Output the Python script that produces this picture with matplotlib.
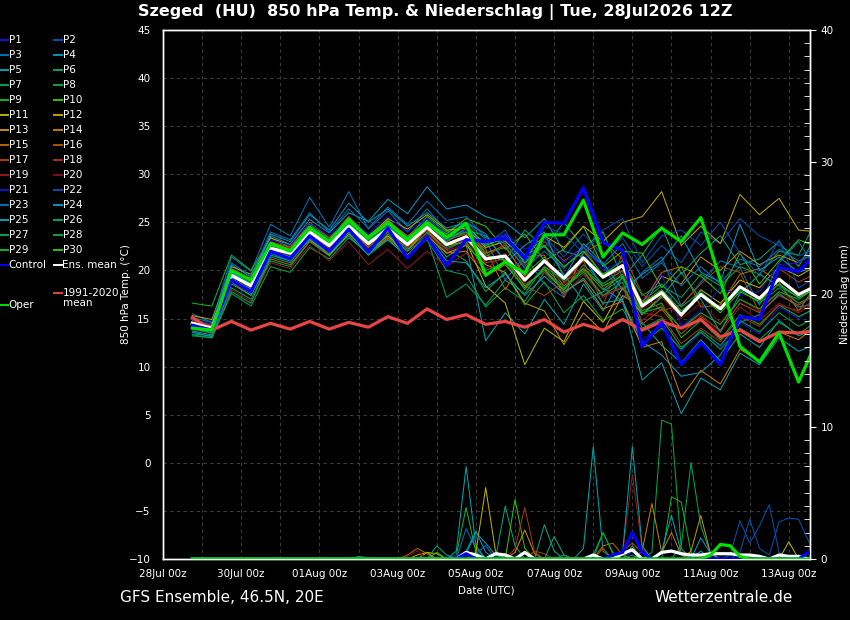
import numpy as np
import matplotlib
matplotlib.use("Agg")
import matplotlib.pyplot as plt
from matplotlib.lines import Line2D

# forecast hours counted from 28Jul 00z
hours = list(range(18, 403, 12))
precip_hours = list(range(18, 403, 6))
tick_hours = [0, 48, 96, 144, 192, 240, 288, 336, 384]
tick_labels = ["28Jul 00z", "30Jul 00z", "01Aug 00z", "03Aug 00z", "05Aug 00z",
               "07Aug 00z", "09Aug 00z", "11Aug 00z", "13Aug 00z"]

ens_mean = [14.5, 14.0, 19.5, 18.4, 22.3, 21.8, 24.0, 22.6, 24.6, 22.8, 24.3, 22.7, 24.5, 22.7, 23.5, 21.2, 21.5,
            19.0, 21.0, 19.2, 21.3, 19.3, 20.5, 16.3, 17.7, 15.4, 17.5, 16.0, 18.3, 17.1, 19.1, 17.5, 18.5]
climate = [15.1, 13.8, 14.7, 13.8, 14.5, 13.9, 14.7, 13.9, 14.6, 14.1, 15.2, 14.5, 16.0, 14.9, 15.4, 14.4, 14.7,
           14.1, 14.9, 13.6, 14.4, 13.8, 14.9, 13.8, 14.7, 14.0, 14.9, 13.1, 13.8, 12.6, 13.6, 13.5, 13.8]
control = [14.3, 13.8, 19.0, 17.8, 22.0, 21.2, 23.6, 22.0, 24.3, 21.9, 24.4, 21.3, 23.5, 20.5, 23.2, 23.0, 23.4,
           21.3, 25.0, 24.9, 28.6, 22.9, 22.1, 12.1, 14.6, 10.2, 12.5, 10.2, 15.2, 14.9, 20.3, 19.9, 22.0]
oper = [14.0, 13.8, 20.0, 19.0, 22.8, 22.0, 24.4, 23.0, 25.3, 23.4, 25.0, 23.2, 24.9, 23.4, 24.9, 19.5, 20.9,
        19.7, 23.7, 23.7, 27.3, 21.4, 23.9, 22.7, 24.4, 23.0, 25.5, 19.0, 12.1, 10.5, 13.5, 8.4, 13.0]

members = [
    [15.0, 14.2, 20.3, 18.9, 22.8, 22.0, 24.6, 23.0, 25.0, 23.2, 24.8, 22.9, 24.2, 22.0, 23.4, 22.5, 23.8, 21.0, 22.5, 20.4, 22.0, 18.0, 16.5, 12.8, 14.2, 11.6, 13.5, 12.0, 14.6, 13.4, 16.2, 15.0, 16.4],
    [14.7, 13.8, 19.6, 18.6, 22.5, 21.7, 24.2, 22.9, 24.8, 23.4, 25.0, 23.5, 25.4, 23.8, 24.6, 22.3, 23.2, 20.6, 23.5, 21.4, 23.8, 21.6, 23.4, 20.4, 22.6, 20.8, 24.0, 22.8, 25.4, 23.6, 22.6, 21.5, 22.4],
    [15.5, 14.6, 21.4, 19.9, 24.8, 23.6, 27.6, 24.5, 28.2, 24.3, 26.2, 24.0, 26.4, 24.1, 25.0, 23.2, 19.0, 21.5, 18.6, 17.2, 22.0, 20.6, 17.0, 19.8, 21.4, 16.3, 18.8, 21.0, 20.3, 16.4, 20.8, 23.0, 19.8],
    [14.2, 13.6, 20.6, 19.3, 23.6, 22.7, 25.3, 23.9, 26.0, 25.1, 27.4, 25.9, 28.7, 26.4, 26.8, 25.6, 25.0, 23.4, 25.4, 22.0, 21.4, 18.2, 16.8, 12.6, 11.2, 9.0, 9.4, 11.2, 14.6, 15.4, 17.6, 16.2, 16.6],
    [13.7, 13.3, 19.1, 18.1, 22.0, 21.4, 23.6, 22.1, 24.3, 22.4, 24.0, 22.2, 23.9, 21.4, 22.8, 12.7, 15.6, 13.4, 17.0, 14.4, 18.6, 15.8, 19.4, 14.6, 12.2, 10.4, 12.8, 10.6, 13.4, 12.0, 14.8, 13.2, 14.0],
    [14.0, 13.7, 19.0, 17.6, 21.8, 21.0, 23.5, 22.4, 24.4, 22.6, 24.6, 23.2, 25.2, 23.4, 24.2, 23.6, 21.0, 24.2, 22.4, 25.0, 22.4, 24.0, 19.2, 21.6, 24.6, 19.6, 21.8, 23.6, 20.6, 21.2, 23.0, 20.4, 24.0],
    [13.4, 13.2, 18.2, 17.0, 21.0, 20.4, 23.0, 21.5, 23.8, 22.0, 23.6, 21.6, 23.2, 20.0, 19.5, 16.2, 18.2, 16.8, 19.8, 18.0, 20.6, 18.6, 20.0, 16.8, 18.4, 17.2, 19.6, 18.4, 20.4, 19.6, 22.0, 21.6, 25.6],
    [13.2, 13.0, 17.6, 16.3, 20.4, 19.8, 22.4, 21.2, 23.4, 21.8, 23.2, 21.4, 24.0, 22.2, 21.0, 17.8, 19.8, 16.4, 18.8, 15.6, 17.4, 14.8, 16.0, 12.4, 14.0, 11.8, 13.8, 12.2, 14.8, 13.6, 15.6, 14.2, 15.2],
    [16.6, 16.3, 21.6, 20.0, 23.4, 22.4, 24.8, 23.3, 25.5, 23.6, 25.3, 23.4, 25.6, 24.0, 24.6, 21.8, 22.4, 19.6, 21.4, 18.8, 20.2, 18.0, 19.6, 15.8, 16.6, 13.0, 14.8, 12.8, 15.4, 14.4, 16.4, 15.2, 16.2],
    [14.4, 14.0, 19.8, 18.7, 22.6, 22.1, 24.5, 23.1, 25.2, 23.4, 24.9, 23.3, 25.0, 23.8, 25.4, 24.6, 22.2, 23.8, 21.0, 22.2, 24.6, 20.4, 22.0, 21.8, 18.2, 20.4, 19.4, 17.6, 21.8, 18.6, 21.0, 23.2, 22.4],
    [14.6, 14.2, 19.4, 18.2, 22.2, 21.6, 23.8, 22.2, 24.0, 22.0, 23.6, 22.0, 24.4, 22.6, 23.0, 18.4, 16.6, 10.2, 14.0, 12.6, 16.8, 14.6, 18.2, 15.4, 17.4, 15.2, 18.0, 16.6, 19.0, 18.2, 20.4, 19.4, 20.6],
    [15.3, 14.9, 20.4, 19.6, 23.4, 22.6, 24.6, 23.0, 24.8, 23.5, 25.4, 24.3, 25.8, 24.2, 24.4, 22.4, 23.0, 21.4, 23.6, 22.4, 24.6, 23.0, 25.0, 25.6, 28.2, 22.6, 24.6, 22.8, 27.9, 25.8, 27.5, 24.2, 24.0],
    [14.9, 14.4, 20.0, 18.9, 22.0, 21.2, 23.2, 21.6, 23.8, 21.8, 23.4, 21.6, 23.6, 21.8, 22.6, 20.6, 19.8, 16.6, 15.8, 12.3, 15.6, 13.6, 17.4, 16.2, 19.4, 18.6, 21.4, 20.0, 22.0, 20.6, 21.6, 20.8, 22.2],
    [14.3, 13.8, 19.2, 17.9, 22.4, 22.0, 24.4, 22.6, 25.4, 23.0, 24.6, 22.4, 24.2, 21.8, 22.0, 19.4, 20.6, 18.2, 20.2, 17.8, 19.0, 16.0, 16.8, 12.0, 12.6, 6.8, 9.6, 8.2, 11.8, 10.6, 13.6, 12.8, 14.4],
    [14.0, 13.6, 18.8, 17.4, 21.2, 20.6, 23.0, 21.8, 24.2, 22.4, 24.4, 23.0, 24.8, 23.2, 23.8, 22.2, 18.0, 21.4, 21.6, 17.2, 21.8, 23.0, 21.2, 16.6, 19.8, 20.4, 16.2, 16.4, 19.6, 20.2, 18.8, 15.8, 18.8],
    [14.6, 14.1, 19.6, 18.4, 23.0, 22.4, 25.0, 23.4, 25.6, 23.6, 25.2, 23.6, 25.0, 23.0, 24.0, 21.8, 22.6, 19.4, 21.0, 18.4, 20.0, 17.4, 18.2, 14.4, 16.0, 13.4, 15.2, 13.8, 16.6, 15.6, 17.4, 16.4, 17.6],
    [14.2, 13.9, 19.0, 18.0, 22.1, 21.4, 23.8, 22.4, 24.4, 22.6, 24.0, 22.4, 24.2, 22.2, 23.2, 20.8, 21.2, 18.4, 17.4, 18.8, 21.0, 16.4, 21.8, 17.6, 15.8, 16.4, 18.6, 20.4, 19.8, 15.6, 20.2, 18.8, 19.8],
    [14.8, 14.3, 20.2, 19.2, 22.9, 22.3, 24.3, 22.8, 24.6, 22.8, 24.2, 22.6, 24.6, 22.8, 23.6, 21.4, 22.8, 20.4, 23.0, 21.0, 22.4, 19.4, 20.0, 15.6, 15.2, 12.4, 14.0, 12.6, 15.2, 14.2, 16.4, 15.8, 17.2],
    [13.9, 13.4, 18.0, 16.8, 20.8, 20.2, 22.6, 21.0, 23.0, 20.6, 22.2, 20.2, 22.0, 20.4, 21.8, 20.2, 21.6, 18.6, 19.8, 17.4, 19.6, 17.2, 18.4, 14.8, 16.4, 14.0, 15.4, 13.6, 16.2, 14.8, 16.6, 15.6, 16.8],
    [14.5, 14.0, 19.4, 18.2, 22.0, 21.6, 23.6, 22.2, 24.2, 22.2, 23.8, 22.0, 23.8, 22.0, 22.8, 21.0, 21.8, 19.0, 20.8, 18.6, 20.4, 18.2, 19.8, 16.0, 17.2, 15.0, 16.6, 14.6, 17.0, 15.8, 17.8, 16.6, 17.4],
    [14.9, 14.4, 20.0, 19.0, 23.2, 22.6, 24.9, 23.6, 25.3, 23.8, 25.6, 24.0, 25.4, 23.6, 24.2, 23.0, 23.8, 22.2, 23.2, 20.8, 22.6, 20.0, 21.0, 16.2, 19.6, 14.2, 15.8, 18.2, 17.4, 17.8, 20.6, 20.8, 22.2],
    [14.1, 13.6, 19.3, 18.3, 22.2, 21.6, 24.1, 22.7, 24.6, 23.0, 24.6, 23.1, 24.9, 23.2, 24.0, 22.6, 24.2, 20.6, 24.6, 23.8, 21.8, 24.2, 25.4, 20.8, 23.6, 24.2, 22.6, 25.0, 21.8, 19.4, 23.2, 18.2, 19.4],
    [15.1, 14.6, 20.8, 19.4, 24.0, 23.2, 26.0, 24.0, 26.4, 24.4, 26.6, 24.8, 27.2, 25.2, 25.6, 23.4, 22.8, 20.2, 22.0, 20.2, 22.4, 20.6, 22.8, 19.2, 20.8, 18.4, 20.4, 18.6, 21.2, 20.4, 22.2, 21.0, 21.8],
    [14.4, 13.9, 19.8, 18.6, 23.8, 23.0, 25.8, 24.2, 27.0, 25.0, 26.4, 24.6, 26.0, 24.4, 25.0, 23.8, 20.8, 22.6, 24.0, 19.2, 22.8, 20.8, 18.0, 19.6, 21.0, 23.6, 19.8, 18.8, 24.8, 20.0, 21.4, 19.8, 20.6],
    [13.6, 13.1, 18.6, 17.4, 21.6, 21.0, 23.2, 21.8, 23.6, 21.6, 23.2, 21.4, 23.6, 21.0, 20.8, 18.2, 19.6, 17.4, 19.4, 17.6, 19.2, 16.6, 17.0, 8.6, 10.4, 5.1, 8.8, 7.6, 11.4, 10.2, 13.0, 11.6, 12.4],
    [14.0, 13.5, 18.9, 17.7, 22.0, 21.4, 24.0, 22.6, 24.8, 23.2, 25.0, 23.4, 25.0, 23.0, 24.4, 22.8, 23.6, 21.6, 22.6, 19.6, 16.8, 17.8, 19.2, 15.4, 17.2, 19.8, 17.0, 13.6, 17.6, 19.6, 18.4, 17.2, 18.2],
    [13.3, 13.0, 17.8, 16.6, 21.4, 20.8, 23.4, 21.8, 24.0, 21.6, 23.8, 22.0, 23.4, 17.2, 18.6, 16.4, 19.0, 17.6, 20.4, 19.0, 21.4, 19.6, 21.0, 17.4, 18.6, 16.2, 17.8, 16.0, 18.0, 16.6, 18.2, 16.6, 17.6],
    [14.1, 13.7, 19.0, 17.9, 22.4, 21.8, 24.4, 22.8, 25.0, 23.2, 24.8, 23.0, 24.6, 22.4, 23.0, 20.0, 20.8, 18.0, 20.4, 18.2, 19.8, 17.4, 18.8, 14.0, 15.0, 12.0, 13.6, 11.8, 14.0, 12.8, 14.6, 13.4, 14.8],
    [14.4, 13.9, 19.6, 18.6, 22.6, 22.0, 24.2, 22.9, 24.9, 23.0, 24.6, 22.9, 24.8, 23.4, 24.0, 21.6, 21.0, 18.4, 20.0, 18.0, 20.2, 18.4, 19.4, 15.6, 16.2, 14.0, 15.6, 14.4, 17.0, 16.0, 17.8, 17.0, 18.4],
    [14.6, 14.1, 20.0, 18.9, 22.9, 22.2, 24.6, 23.1, 25.1, 23.3, 24.9, 23.2, 25.2, 23.6, 24.8, 22.6, 23.4, 20.8, 22.6, 20.4, 22.0, 19.6, 20.6, 16.6, 18.0, 15.8, 17.4, 15.6, 17.8, 16.8, 18.6, 17.2, 18.2],
]

# precipitation (mm per 6 h): (hour, value) pairs, zero elsewhere
member_rain = [
    [(264, 0.4), (288, 0.6)],
    [(348, 0.3), (354, 2.9), (360, 1.2), (366, 2.5), (372, 4.1), (378, 0.5), (384, 0.2)],
    [(186, 2.3), (192, 0.8), (288, 0.3)],
    [(186, 0.4), (192, 2.0), (198, 1.2), (204, 0.3), (330, 0.6)],
    [(180, 0.6), (186, 7.0), (192, 1.0), (258, 0.8), (264, 8.5), (270, 0.6)],
    [(210, 4.0), (216, 1.0), (234, 2.6), (240, 0.6)],
    [(270, 2.0), (276, 0.5), (318, 1.0), (324, 7.3), (330, 2.5), (336, 0.4)],
    [(300, 0.5), (306, 10.5), (312, 10.2), (318, 0.8)],
    [(180, 0.3), (186, 3.9), (192, 0.5), (312, 4.7), (318, 4.3), (324, 0.5)],
    [(216, 4.5), (222, 0.8)],
    [(162, 0.5), (192, 0.5), (198, 5.4), (204, 0.6), (384, 1.3)],
    [(156, 0.3), (162, 0.5), (168, 0.4)],
    [(216, 0.5), (222, 2.2), (228, 0.4), (324, 0.6), (330, 3.3), (336, 0.4)],
    [(294, 0.6), (300, 4.2), (306, 0.5), (312, 2.0), (318, 0.3)],
    [(150, 0.3), (156, 0.8), (162, 0.4), (270, 1.0), (276, 1.2), (282, 0.3)],
    [(270, 0.8), (282, 0.6), (288, 1.2), (294, 0.5)],
    [(228, 0.6), (234, 0.4)],
    [(216, 0.8), (222, 3.9), (228, 0.5)],
    [(282, 0.4), (288, 6.4), (294, 0.8)],
    [(150, 0.2), (156, 0.6)],
    [(180, 0.3), (186, 0.5), (396, 0.4)],
    [(354, 0.5), (360, 3.0), (366, 0.8), (372, 0.3), (378, 2.8), (384, 3.1), (390, 3.0), (396, 1.4)],
    [(192, 0.4), (198, 1.0)],
    [(186, 0.6), (192, 2.1), (198, 0.5), (330, 1.6), (336, 0.4)],
    [(282, 0.5), (288, 8.5), (294, 1.0), (306, 0.6), (312, 3.3), (318, 0.5)],
    [(168, 1.0), (174, 0.3), (240, 1.7), (246, 0.3)],
    [(120, 0.2), (126, 0.1), (246, 0.3)],
    [(264, 0.3), (270, 2.0), (276, 0.4), (288, 1.0)],
    [(210, 0.4)],
    [(168, 0.5)],
]
control_rain = [(186, 0.4), (276, 0.3), (282, 0.5), (288, 2.0), (294, 0.5), (396, 0.5)]
oper_rain = [(336, 0.3), (342, 1.1), (348, 1.0), (354, 0.2)]
mean_rain = [(186, 0.5), (192, 0.3), (204, 0.4), (210, 0.3), (222, 0.5), (264, 0.3), (282, 0.4), (288, 0.7),
             (306, 0.5), (312, 0.6), (318, 0.4), (324, 0.3), (330, 0.3), (336, 0.4), (342, 0.4), (348, 0.4),
             (354, 0.3), (360, 0.3), (366, 0.2), (378, 0.3), (384, 0.2), (390, 0.2)]

base_colors = ['#1414d2', '#0050b4', '#0072b8', '#0096c0', '#00a2aa', '#00a27e', '#00a05a', '#00a642',
               '#14b01e', '#30c000', '#b8b000', '#c0a200', '#c08e00', '#c07a00', '#b86200', '#b05200',
               '#a84200', '#a03418', '#901a18', '#801010']
member_colors = base_colors + base_colors[:10]


def rain_series(events):
    vals = np.zeros(len(precip_hours))
    for h, v in events:
        vals[precip_hours.index(h)] = v
    return vals


W, H = 850, 620
fig = plt.figure(figsize=(8.5, 6.2), dpi=100, facecolor='black')
ax = fig.add_axes([163 / W, 1 - 559 / H, (810 - 163) / W, 529 / H])
ax.set_facecolor('black')

for vals, col in zip(members, member_colors):
    ax.plot(hours, vals, color=col, lw=0.75, zorder=2)
ax.plot(hours, climate, color='#e84545', lw=2.3, zorder=3)
ax.plot(hours, ens_mean, color='white', lw=2.3, zorder=4)
ax.plot(hours, control, color='#0000ff', lw=2.3, zorder=5)
ax.plot(hours, oper, color='#00e000', lw=2.3, zorder=6)

ax.set_xlim(0, 397)
ax.set_ylim(-10, 45)
ax.set_yticks(range(-10, 46, 5))
ax.set_xticks(tick_hours)
ax.set_xticklabels(tick_labels)
ax.set_xticks(range(24, 397, 48), minor=True)
ax.grid(True, which='both', color='#3c3c3c', lw=0.8, ls=(0, (3, 3)))
ax.tick_params(axis='both', which='both', length=0, colors='white', labelsize=7.5)
ax.tick_params(axis='x', pad=7)
ax.tick_params(axis='y', pad=9)
for s in ax.spines.values():
    s.set_color('white')
    s.set_linewidth(1.0)
ax.set_ylabel("850 hPa Temp. (°C)", color='white', fontsize=7.5)
ax.yaxis.set_label_coords((131 - 163) / 647, 0.5)
ax.set_xlabel("Date (UTC)", color='white', fontsize=7.5, labelpad=5)

ax2 = ax.twinx()
ax2.set_ylim(0, 40)
for events, col in zip(member_rain, member_colors):
    ax2.plot(precip_hours, rain_series(events), color=col, lw=0.75, zorder=2)
ax2.plot(precip_hours, rain_series(mean_rain), color='white', lw=2.3, zorder=4)
ax2.plot(precip_hours, rain_series(control_rain), color='#0000ff', lw=2.3, zorder=5)
ax2.plot(precip_hours, rain_series(oper_rain), color='#00e000', lw=2.3, zorder=6)
ax2.set_yticks(range(0, 41, 10))
ax2.set_yticks(range(0, 41, 1), minor=True)
ax2.tick_params(axis='y', which='minor', direction='in', length=4, color='white')
ax2.tick_params(axis='y', which='major', direction='out', length=4, color='white',
                labelcolor='white', labelsize=7.5)
ax2.set_ylabel("Niederschlag (mm)", color='white', fontsize=7.5)
ax2.yaxis.set_label_coords((840 - 163) / 647, 0.5)
for s in ax2.spines.values():
    s.set_color('white')
    s.set_linewidth(1.0)

# legend drawn in pixel positions at the left margin
left_col = [f"P{i}" for i in range(1, 30, 2)] + ["Control"]
right_col = [f"P{i}" for i in range(2, 31, 2)] + ["Ens. mean"]
left_colors = member_colors[0::2] + ['#0000ff']
right_colors = member_colors[1::2] + ['white']


def legend_item(x, y, label, color):
    fig.add_artist(Line2D([x / W, (x + 7.5) / W], [1 - y / H, 1 - y / H],
                          transform=fig.transFigure, color=color, lw=1.4))
    fig.text((x + 8.5) / W, 1 - y / H, label, color='white', fontsize=7.5,
             ha='left', va='center')


for i, (lab, col) in enumerate(zip(left_col, left_colors)):
    legend_item(0, 40 + i * 15, lab, col)
for i, (lab, col) in enumerate(zip(right_col, right_colors)):
    legend_item(54, 40 + i * 15, lab, col)
legend_item(0, 305, "Oper", '#00e000')
legend_item(54, 293, "1991-2020", '#e84545')
fig.text(62.5 / W, 1 - 303 / H, "mean", color='white', fontsize=7.5, ha='left', va='center')

fig.text(435 / W, 1 - 12 / H, "Szeged  (HU)  850 hPa Temp. & Niederschlag | Tue, 28Jul2026 12Z",
         color='white', fontsize=11.5, fontweight='bold', ha='center', va='center')
fig.text(120 / W, 1 - 598 / H, "GFS Ensemble, 46.5N, 20E", color='white', fontsize=11,
         ha='left', va='center')
fig.text(793 / W, 1 - 598 / H, "Wetterzentrale.de", color='white', fontsize=11,
         ha='right', va='center')

fig.savefig("out.png", dpi=100, facecolor='black')
